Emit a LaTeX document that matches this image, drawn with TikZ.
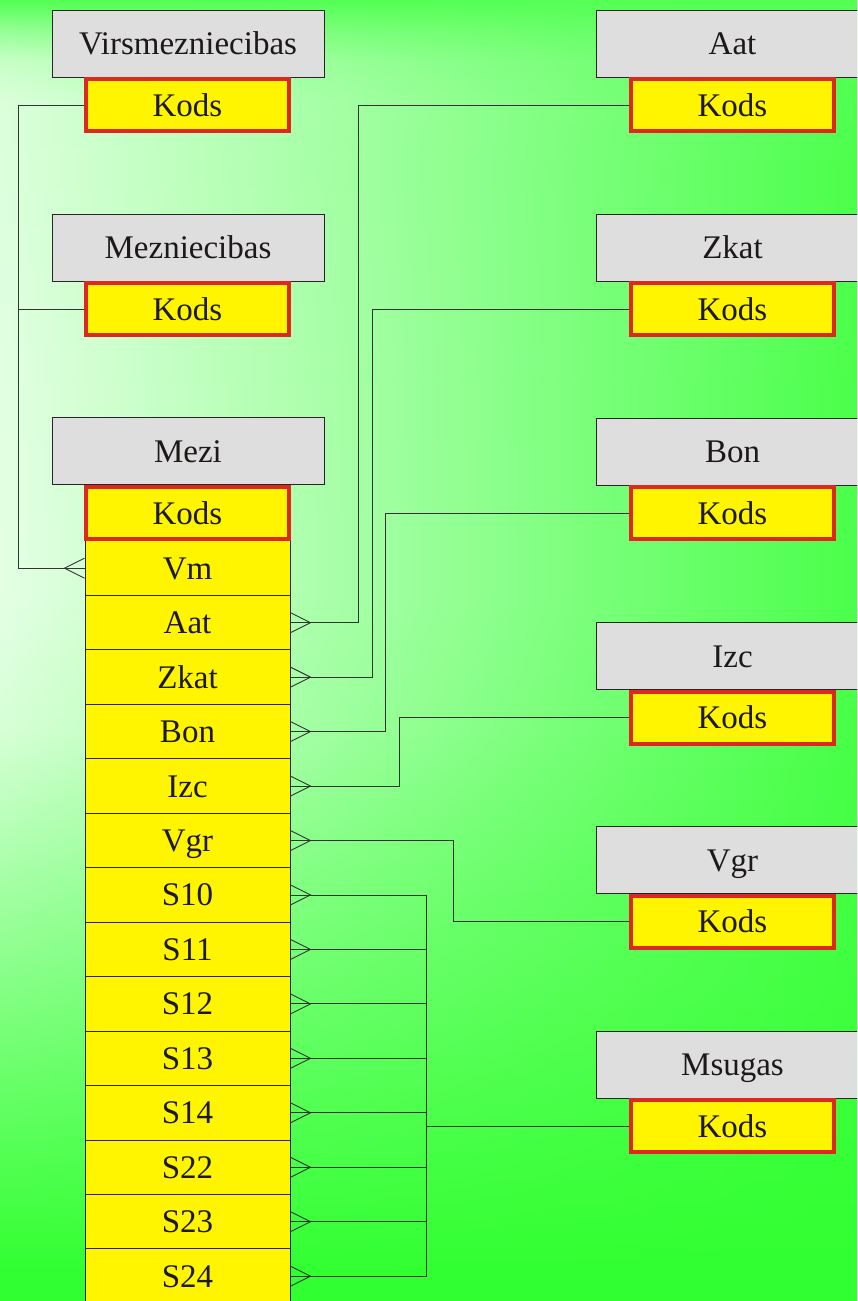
\documentclass[tikz,border=0pt]{standalone}
\usepackage{fontspec}
\setmainfont{Liberation Serif}
\usetikzlibrary{fadings}
\definecolor{hdrgray}{RGB}{222,222,222}
\definecolor{kyellow}{RGB}{255,245,0}
\definecolor{kred}{RGB}{220,40,30}
\definecolor{txt}{RGB}{30,25,25}
\newcommand\diafont{\fontsize{33}{40}\selectfont}
\pgfdeclareverticalshading{bgright}{100bp}{rgb(0bp)=(0.188,1,0.188); rgb(25bp)=(0.188,1,0.188); rgb(36.57bp)=(0.243,1,0.243); rgb(51.94bp)=(0.294,1,0.294); rgb(68.47bp)=(0.298,1,0.298); rgb(75bp)=(0.333,1,0.333); rgb(100bp)=(0.333,1,0.333)}
\pgfdeclareverticalshading{bgleft}{100bp}{rgb(0bp)=(0.188,1,0.188); rgb(25bp)=(0.188,1,0.188); rgb(26.19bp)=(0.196,1,0.196); rgb(36.57bp)=(0.51,1,0.51); rgb(40.41bp)=(0.627,1,0.627); rgb(46.95bp)=(0.843,1,0.843); rgb(52.33bp)=(0.9,1,0.9); rgb(59.63bp)=(0.89,1,0.89); rgb(71.16bp)=(0.86,1,0.86); rgb(72.69bp)=(0.784,1,0.784); rgb(73.85bp)=(0.588,1,0.588); rgb(75bp)=(0.333,1,0.333); rgb(100bp)=(0.333,1,0.333)}
\tikzfading[name=faderight, left color=transparent!0, right color=transparent!100]
\newcommand\crowR[1]{\draw[conn] ([yshift=10pt]#1.east) -- ([xshift=20pt]#1.east) -- ([yshift=-10pt]#1.east);}
\begin{document}
\begin{tikzpicture}[x=1pt,y=-1pt,
  ghead/.style={draw=black!85, line width=1pt, fill=hdrgray, minimum width=272pt, minimum height=67pt, inner sep=0pt, font=\diafont, text=txt, text height=22pt, text depth=0pt},
  kods/.style={draw=kred, line width=4pt, fill=kyellow, minimum width=203pt, minimum height=52pt, inner sep=0pt, font=\diafont, text=txt, text height=22pt, text depth=0pt},
  tblrow/.style={draw=black!85, line width=1pt, fill=kyellow, minimum width=205pt, minimum height=54.46pt, inner sep=0pt, font=\diafont, text=txt, text height=22pt, text depth=0pt},
  conn/.style={draw=black!80, line width=0.9pt},
]
\useasboundingbox (0,0) rectangle (857,1301);
\clip (0,0) rectangle (857,1301);
% background
\shade[shading=bgright] (0,0) rectangle (857,1301);
\shade[shading=bgleft, path fading=faderight] (0,0) rectangle (857,1301);

% left entities
\node[ghead] (hVirs) at (188,43.5) {Virsmezniecibas};
\node[kods] (kVirs) at (187.5,105) {Kods};
\node[ghead] (hMezn) at (188,247.5) {Mezniecibas};
\node[kods] (kMezn) at (187.5,309) {Kods};
\node[ghead] (hMezi) at (188,451) {Mezi};

% table rows
\foreach \lab [count=\i from 0] in {Vm,Aat,Zkat,Bon,Izc,Vgr,S10,S11,S12,S13,S14,S22,S23,S24}
  {\node[tblrow, name=r\lab] at (187.5,{568.2+54.46*\i}) {\lab};}
\node[kods] (kMezi) at (187.5,513) {Kods};

% right entities
\foreach \lab [count=\i from 0] in {Aat,Zkat,Bon,Izc,Vgr,Msugas}{
  \node[ghead, minimum width=273pt] (h\lab) at (732.5,{43.5+204.2*\i}) {\lab};
  \node[kods] (k\lab) at (732.5,{105+204.2*\i}) {Kods};
}

% left connector
\coordinate (lbus) at (18,0);
\draw[conn] (kVirs.west) -| (lbus |- rVm.west) -- (rVm.west);
\draw[conn] (kMezn.west) -- (kMezn.west -| lbus);
\draw[conn] ([yshift=10pt]rVm.west) -- ([xshift=-20pt]rVm.west) -- ([yshift=-10pt]rVm.west);

% right connectors
\draw[conn] (rAat.east) -- ++(68,0) |- (kAat.west);
\draw[conn] (rZkat.east) -- ++(82,0) |- (kZkat.west);
\draw[conn] (rBon.east) -- ++(95,0) |- (kBon.west);
\draw[conn] (rIzc.east) -- ++(109,0) |- (kIzc.west);
\draw[conn] (rVgr.east) -- ++(163,0) |- (kVgr.west);
\foreach \s in {S10,S11,S12,S13,S14,S22,S23,S24}
  {\draw[conn] (r\s.east) -- ++(136,0);}
\coordinate (rbus) at ([xshift=136pt]rS10.east);
\draw[conn] (rbus) -- ([xshift=136pt]rS24.east);
\draw[conn] (kMsugas.west) -- (kMsugas.west -| rbus);

\foreach \s in {Aat,Zkat,Bon,Izc,Vgr,S10,S11,S12,S13,S14,S22,S23,S24}
  {\crowR{r\s}}
\end{tikzpicture}
\end{document}
